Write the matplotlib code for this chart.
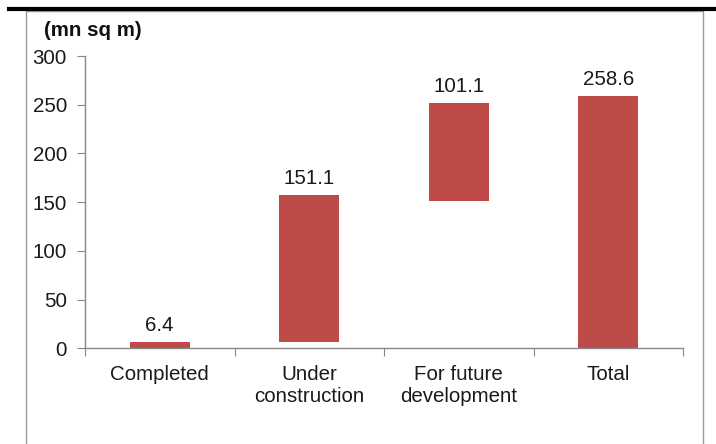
import matplotlib
matplotlib.use("Agg")
import matplotlib.pyplot as plt
from matplotlib.patches import Rectangle
from matplotlib.lines import Line2D

categories = ["Completed", "Under\nconstruction", "For future\ndevelopment", "Total"]
values = [6.4, 151.1, 101.1, 258.6]
bases = [0, 6.4, 151.1, 0]
labels = ["6.4", "151.1", "101.1", "258.6"]
yticks = [0, 50, 100, 150, 200, 250, 300]
unit_label = "(mn sq m)"

W, H = 716, 444
plt.rcParams['font.family'] = ['Liberation Sans', 'DejaVu Sans']
fig = plt.figure(figsize=(W / 100, H / 100), dpi=100)

FS = 14.8

# outer frame and heavy top rule
fig.add_artist(Rectangle((26 / W, -0.05), (703 - 26) / W, 1.05 - 11 / H,
                         transform=fig.transFigure, fill=False,
                         edgecolor="#9a9a9a", lw=1.0))
fig.add_artist(Line2D([9 / W, 1.0], [1 - 9 / H, 1 - 9 / H],
                      transform=fig.transFigure, color="black", lw=3.0))

ax = fig.add_axes([85 / W, 1 - 348.3 / H, (683 - 85) / W, (348.3 - 56) / H])
x = list(range(len(categories)))
ax.bar(x, values, bottom=bases, width=0.4, color="#BE4B48")
for xi, v, b, t in zip(x, values, bases, labels):
    ax.annotate(t, (xi, v + b), xytext=(0, 5), textcoords="offset points",
                ha="center", va="bottom", fontsize=FS, color="#1a1a1a")

ax.set_xlim(-0.5, len(categories) - 0.5)
ax.set_ylim(0, 300)
ax.set_yticks(yticks)
ax.set_yticklabels([str(t) for t in yticks], fontsize=FS, color="#1a1a1a")
ax.set_xticks([i - 0.5 for i in range(len(categories) + 1)])
ax.set_xticklabels([])
ax.set_xticks(x, minor=True)
ax.set_xticklabels(categories, minor=True, fontsize=FS, color="#1a1a1a",
                   linespacing=1.2)
ax.tick_params(axis="x", which="minor", length=0, pad=12)
ax.tick_params(axis="x", which="major", length=6, color="#888888", direction="out")
ax.tick_params(axis="y", length=6, color="#888888", direction="out", pad=7)
for s in ["top", "right"]:
    ax.spines[s].set_visible(False)
for s in ["left", "bottom"]:
    ax.spines[s].set_color("#888888")
    ax.spines[s].set_linewidth(1.0)

fig.text(44 / W, 1 - 30 / H, unit_label, fontsize=FS, fontweight="bold",
         ha="left", va="center", color="#111111")

fig.savefig("out.png", dpi=100)
